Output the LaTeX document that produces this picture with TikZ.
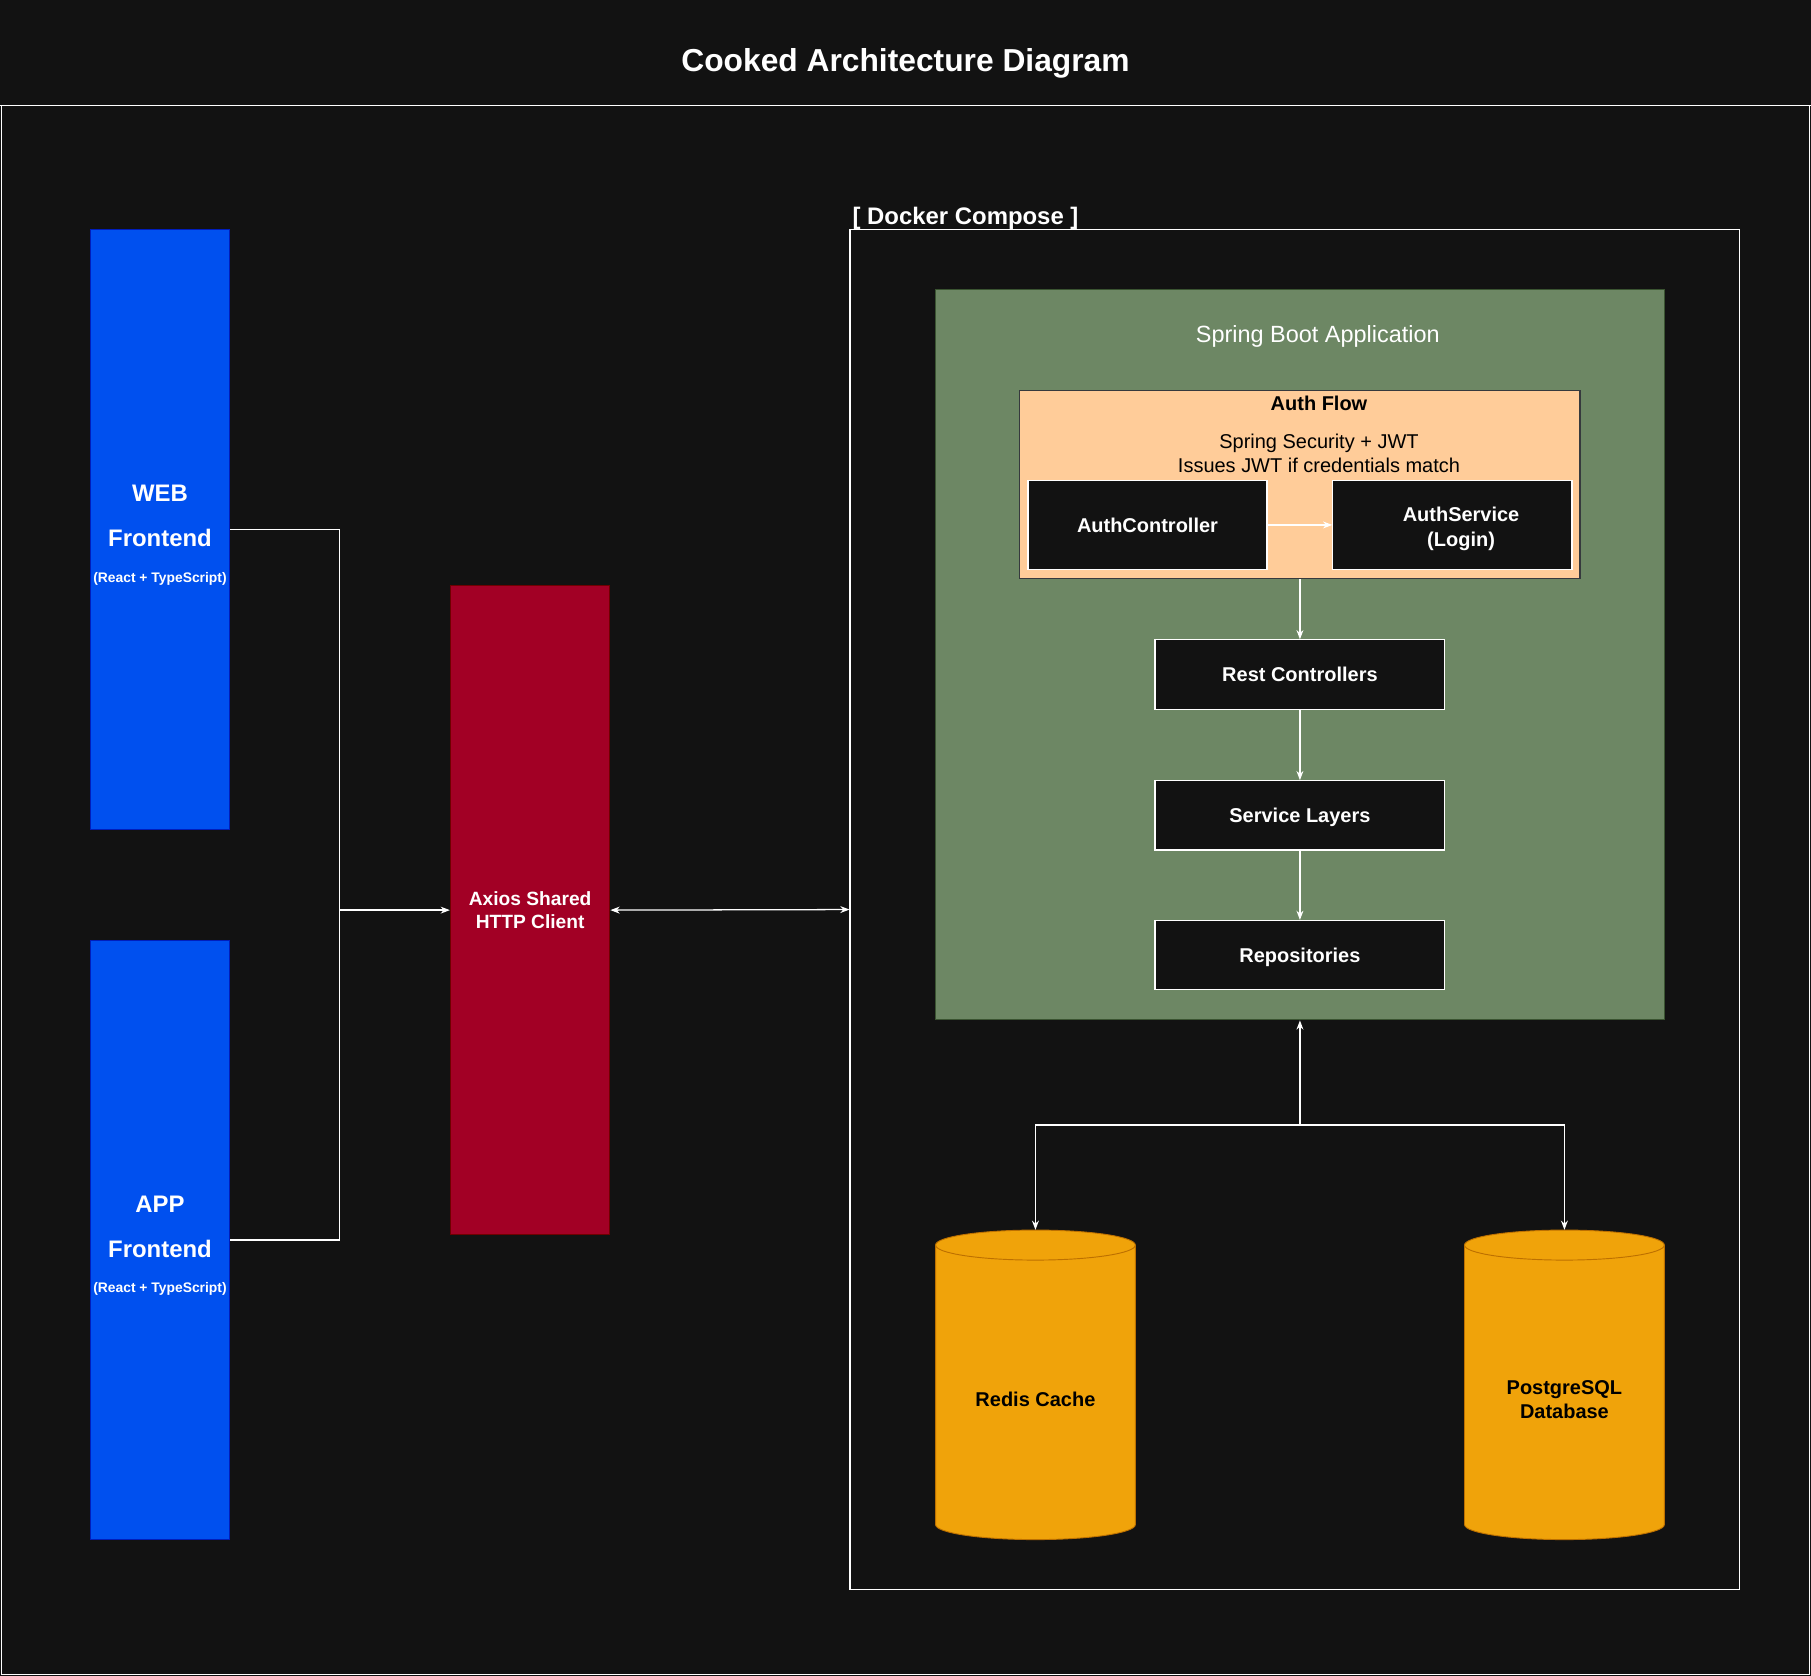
\documentclass[tikz,border=0pt]{standalone}
\usepackage{fontspec}
\setmainfont{Liberation Sans}
\usepackage{xcolor}
\usepackage{tikz}
\usetikzlibrary{positioning,calc,arrows.meta}

\definecolor{bgdark}{HTML}{121212}
\definecolor{feblue}{HTML}{0050EF}
\definecolor{feblueline}{HTML}{001DBC}
\definecolor{axiosred}{HTML}{A20025}
\definecolor{axiosline}{HTML}{6F0000}
\definecolor{springgreen}{HTML}{6D8764}
\definecolor{springline}{HTML}{3A5431}
\definecolor{authorange}{HTML}{FFCC99}
\definecolor{authline}{HTML}{36393D}
\definecolor{dbyellow}{HTML}{F0A30A}
\definecolor{dbline}{HTML}{BD7000}

\begin{document}
\begin{tikzpicture}[x=1pt,y=-1pt,
    >={Stealth[length=8pt,width=6pt]},
    box/.style={rectangle,inner sep=0pt,align=center},
    frontend/.style={box,fill=feblue,draw=feblueline,line width=1pt,
        minimum width=121pt,minimum height=519pt},
    fetext/.style={align=center,text=white,yshift=-5pt,font=\bfseries\fontsize{20.7}{39}\selectfont},
    darkbox/.style={box,fill=bgdark,draw=white,line width=1pt,text=white,
        font=\bfseries\fontsize{17.3}{21}\selectfont},
    layer/.style={darkbox,minimum width=251pt,minimum height=60pt,text depth=0pt},
    dbtext/.style={align=center,text=black,font=\bfseries\fontsize{17.3}{21}\selectfont},
    link/.style={draw=white,line width=1.1pt}]

    \useasboundingbox (0,0) rectangle (1568,1451);
    \fill[bgdark] (0,0) rectangle (1568,1451);

    % Title and outer frame
    \node[text=white,font=\bfseries\fontsize{27.5}{33}\selectfont] (title) at (784,55) {Cooked Architecture Diagram};
    \draw[white!75,line width=1pt] (1,91) rectangle (1567,1450);
    \draw[white,line width=1pt] (0,91) -- (1568,91);

    % Frontends
    \node[frontend,label={[fetext]center:{WEB\\Frontend\\[-8pt]{\fontsize{12}{14}\selectfont(React + TypeScript)}}}] (web) at (138.5,458.5) {};
    \node[frontend,label={[fetext]center:{APP\\Frontend\\[-8pt]{\fontsize{12}{14}\selectfont(React + TypeScript)}}}] (app) at (138.5,1073.5) {};

    % Shared client
    \node[box,fill=axiosred,draw=axiosline,line width=1pt,text=white,minimum width=138pt,minimum height=562pt,
        font=\bfseries\fontsize{16.6}{20}\selectfont] (axios) at (459,788) {Axios Shared\\HTTP Client};

    % Docker Compose
    \node[box,draw=white!85,line width=1pt,minimum width=770pt,minimum height=1177pt] (docker) at (1121,787.5) {};
    \node[anchor=base west,inner sep=0pt,text=white,font=\bfseries\fontsize{20.7}{25}\selectfont] (dockerlabel) at (738,194) {[ Docker Compose ]};

    % Spring Boot application
    \node[box,fill=springgreen,draw=springline,line width=1pt,minimum width=631pt,minimum height=632pt] (spring) at (1125.5,567) {};
    \node[text=white,font=\fontsize{20.3}{24}\selectfont] (springlabel) at (1141,291.5) {Spring Boot Application};

    \node[box,fill=authorange,draw=authline,line width=1pt,minimum width=485pt,minimum height=163pt] (auth) at (1125.5,419.5) {};
    \node[text=black,font=\bfseries\fontsize{17.3}{21}\selectfont] (authtitle) at (1142,349) {Auth Flow};
    \node[align=center,text=black,font=\fontsize{17.3}{21}\selectfont] (authnote) at (1142,392.5) {Spring Security + JWT\\Issues JWT if credentials match};
    \node[darkbox,minimum width=207pt,minimum height=77pt] (authctrl) at (993.5,454.5) {AuthController};
    \node[darkbox,minimum width=207pt,minimum height=77pt,
        label={[align=center,xshift=7.5pt,yshift=-3.5pt,text=white,font=\bfseries\fontsize{17.3}{21}\selectfont]center:{AuthService\\(Login)}}] (authsvc) at (1257.5,454.5) {};

    \node[layer] (rest) at (1125.5,584) {Rest Controllers};
    \node[layer] (svc) at (1125.5,706) {Service Layers};
    \node[layer] (repo) at (1125.5,827) {Repositories};

    % Databases
    \foreach \cx in {896.5,1354.5} {
        \fill[dbyellow] (\cx-86.5,1078) -- (\cx-86.5,1320) arc[start angle=180,end angle=360,x radius=86.5pt,y radius=13pt]
            -- (\cx+86.5,1078) arc[start angle=0,end angle=180,x radius=86.5pt,y radius=13pt] -- cycle;
        \draw[dbline,line width=0.8pt] (\cx-86.5,1078) -- (\cx-86.5,1320) arc[start angle=180,end angle=360,x radius=86.5pt,y radius=13pt]
            -- (\cx+86.5,1078);
        \draw[dbline,line width=0.8pt] (\cx,1078) ellipse[x radius=86.5pt,y radius=13pt];
    }
    \node[box,minimum width=173pt,minimum height=268pt] (redis) at (896.5,1199) {};
    \node[box,minimum width=173pt,minimum height=268pt] (pg) at (1354.5,1199) {};
    \node[dbtext] (redislabel) at (896.5,1212) {Redis Cache};
    \node[dbtext] (pglabel) at (1354.5,1212) {PostgreSQL\\Database};

    % Connectors
    \coordinate (join) at (294,788);
    \coordinate (split) at (1125.5,974);
    \draw[link,->] (web.east) -| (join) -- (axios.west);
    \draw[link] (app.east) -| (join);
    \draw[link,<->] (axios.east) -- (docker.west);
    \draw[link,->] (authctrl.east) -- (authsvc.west);
    \draw[link,->] (auth.south) -- (rest.north);
    \draw[link,->] (rest.south) -- (svc.north);
    \draw[link,->] (svc.south) -- (repo.north);
    \draw[link,->] (split) -- (spring.south);
    \draw[link,->] (split) -| (redis.north);
    \draw[link,->] (split) -| (pg.north);
\end{tikzpicture}
\end{document}
